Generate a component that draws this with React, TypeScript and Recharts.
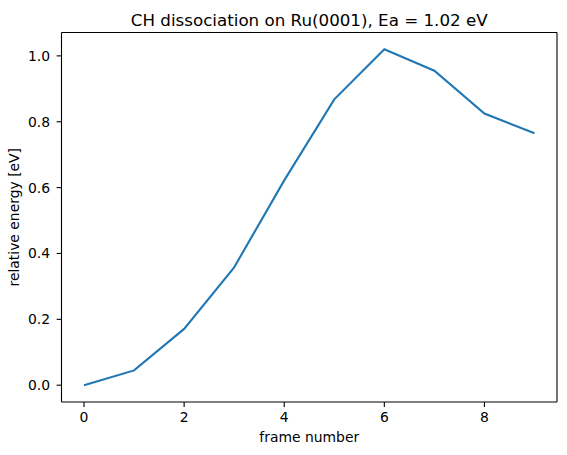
import React from 'react';
import { LineChart, Line, XAxis, YAxis, ReferenceLine } from 'recharts';

// frame index along the NEB path and relative energy of each image [eV]
const frames = [0, 1, 2, 3, 4, 5, 6, 7, 8, 9];
const energies = [0.0, 0.045, 0.171, 0.358, 0.622, 0.868, 1.02, 0.955, 0.825, 0.765];

const xTicks = [0, 2, 4, 6, 8];
const yTicks = [0, 0.2, 0.4, 0.6, 0.8, 1.0];

const X_DOMAIN: [number, number] = [-0.45, 9.45];
const Y_DOMAIN: [number, number] = [-0.051, 1.071];

const chartData = frames.map((f, i) => ({ frame: f, energy: energies[i] }));

const FONT = '"DejaVu Sans", sans-serif';
const tickStyle = { fontSize: 13.9, fill: '#000', fontFamily: FONT };

export default function App() {
    return (
        <div style={{ position: 'absolute', left: 0, top: 0, width: 567, height: 455, background: '#fff' }}>
            <div
                style={{
                    position: 'absolute',
                    left: 61.5,
                    top: 10,
                    width: 495.5,
                    textAlign: 'center',
                    fontFamily: FONT,
                    fontSize: 16.7,
                    lineHeight: '20px',
                    color: '#000',
                }}
            >
                CH dissociation on Ru(0001), Ea = 1.02 eV
            </div>
            <LineChart
                width={567}
                height={455}
                data={chartData}
                margin={{ top: 32.5, right: 10, bottom: 0, left: 0 }}
            >
                <XAxis
                    dataKey="frame"
                    type="number"
                    domain={X_DOMAIN}
                    ticks={xTicks}
                    allowDataOverflow
                    height={53}
                    tickSize={4.9}
                    tickMargin={5.5}
                    stroke="#000"
                    strokeWidth={1.1}
                    tick={tickStyle}
                    label={{
                        value: 'frame number',
                        position: 'insideBottom',
                        offset: 12.7,
                        style: { fontSize: 13.9, fill: '#000', fontFamily: FONT },
                    }}
                />
                <YAxis
                    type="number"
                    domain={Y_DOMAIN}
                    ticks={yTicks}
                    allowDataOverflow
                    width={61.5}
                    tickSize={4.9}
                    tickMargin={6.6}
                    stroke="#000"
                    strokeWidth={1.1}
                    tick={tickStyle}
                    tickFormatter={(v: number) => v.toFixed(1)}
                    label={({ viewBox }: any) => {
                        const x = viewBox.x + 19;
                        const y = viewBox.y + viewBox.height / 2;
                        return (
                            <text
                                x={x}
                                y={y}
                                transform={`rotate(-90, ${x}, ${y})`}
                                textAnchor="middle"
                                fontSize={13.9}
                                fontFamily={FONT}
                                fill="#000"
                            >
                                relative energy [eV]
                            </text>
                        );
                    }}
                />
                {/* top and right spines */}
                <ReferenceLine y={Y_DOMAIN[1]} stroke="#000" strokeWidth={1.1} ifOverflow="extendDomain" />
                <ReferenceLine x={X_DOMAIN[1]} stroke="#000" strokeWidth={1.1} ifOverflow="extendDomain" />
                <Line
                    type="linear"
                    dataKey="energy"
                    stroke="#1f77b4"
                    strokeWidth={2.08}
                    dot={false}
                    activeDot={false}
                    isAnimationActive={false}
                />
            </LineChart>
        </div>
    );
}
